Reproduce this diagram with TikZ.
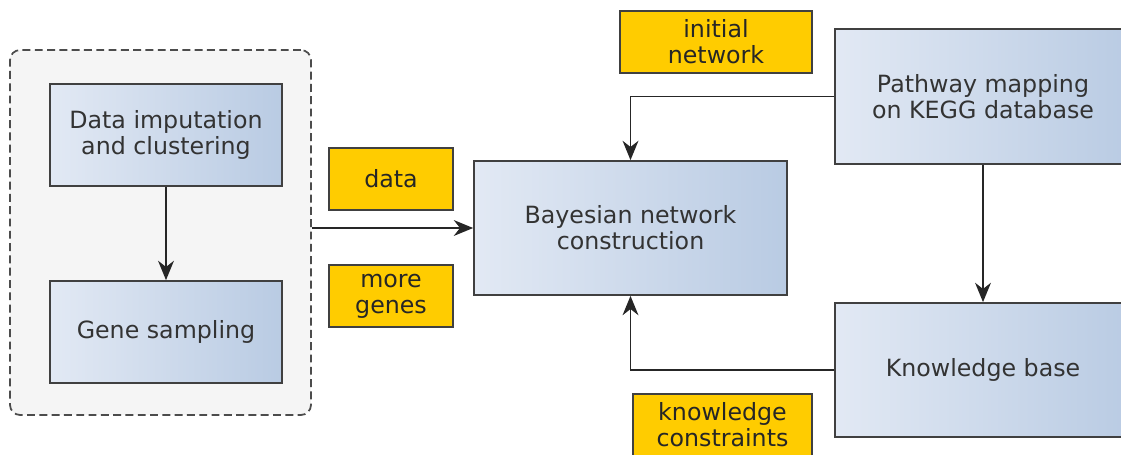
\documentclass[tikz,border=0pt]{standalone}
\usepackage{fontspec}
\setmainfont{DejaVu Sans}
\usetikzlibrary{arrows.meta}
\definecolor{tagyellow}{HTML}{FFCC00}
\definecolor{boxleft}{HTML}{E2E9F4}
\definecolor{boxright}{HTML}{B9CBE3}
\definecolor{txtgray}{HTML}{333333}
\tikzset{
	procbox/.style={draw=black!75, line width=1pt, left color=boxleft, right color=boxright,
		text=txtgray, align=center, font=\fontsize{13.5}{14.8}\selectfont, inner sep=0pt},
	tagbox/.style={draw=black!75, line width=1pt, fill=tagyellow, text=black!85,
		align=center, font=\fontsize{13.5}{14.8}\selectfont, inner sep=0pt},
	arr/.style={line width=1.1pt, draw=black!85, -{Stealth[length=11pt,width=9pt,inset=3.5pt]}}
}

\begin{document}
\begin{tikzpicture}[x=0.02cm, y=-0.02cm]
		%%%%% START %%%%%
		\useasboundingbox (0, 0) rectangle (1121, 454);
		
		\node[draw=black!70, dash pattern=on 4.5pt off 2.5pt, line width=1pt, fill=black!4, rounded corners=0.2cm,
			minimum width=6.02cm, minimum height=7.3cm] (group) at (160.5, 232.5) {};
		
		\node[procbox, minimum width=4.64cm, minimum height=2.04cm] (impute) at (166, 135) {Data imputation\\ and clustering};
		\node[procbox, minimum width=4.64cm, minimum height=2.04cm] (sampling) at (166, 332) {Gene sampling};
		
		\node[procbox, minimum width=6.26cm, minimum height=2.68cm] (bayes) at (630.5, 228) {Bayesian network\\ construction};
		\node[procbox, minimum width=5.92cm, minimum height=2.7cm] (pathway) at (983, 96.5) {Pathway mapping\\ on KEGG database};
		\node[procbox, minimum width=5.92cm, minimum height=2.68cm] (kbase) at (983, 370) {Knowledge base};
		
		\node[tagbox, minimum width=2.48cm, minimum height=1.24cm] (datatag) at (391, 179) {data};
		\node[tagbox, minimum width=2.48cm, minimum height=1.24cm] (genestag) at (391, 296) {more\\ genes};
		\node[tagbox, minimum width=3.84cm, minimum height=1.24cm] (inittag) at (716, 42) {initial\\ network};
		\node[tagbox, minimum width=3.58cm, minimum height=1.24cm] (constrtag) at (722.5, 425) {knowledge\\ constraints};
		
		\draw[arr] (impute) -- (sampling);
		\draw[arr] (group.east |- bayes.west) -- (bayes.west);
		\draw[arr] (pathway.west) -| (bayes.north);
		\draw[arr] (pathway.south -| kbase.north) -- (kbase.north);
		\draw[arr] (kbase.west) -| (bayes.south);
		%%%%% END %%%%%
	\end{tikzpicture}
\end{document}
